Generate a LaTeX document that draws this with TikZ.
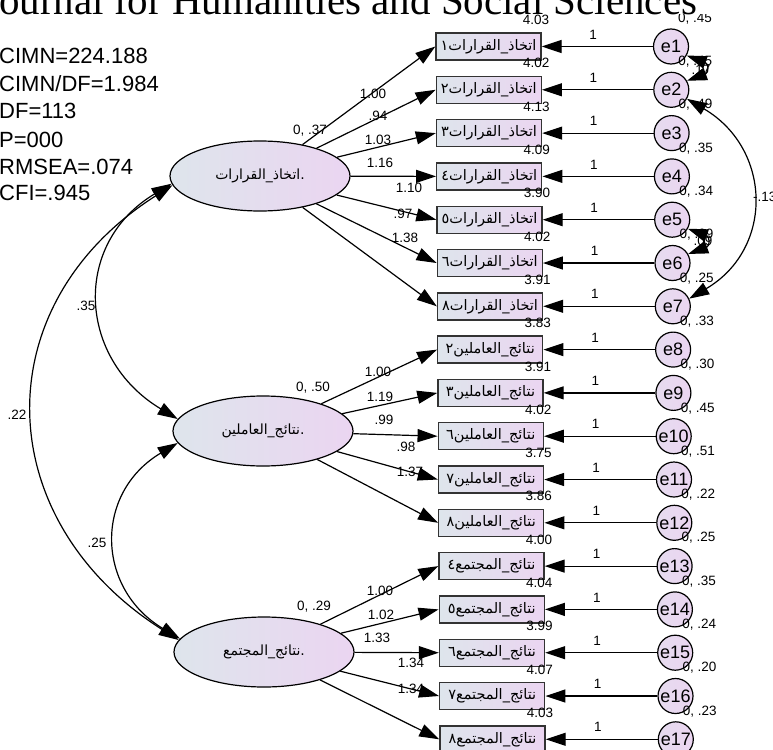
\documentclass[tikz,border=0pt]{standalone}
\usepackage{fontspec}
\setmainfont{Liberation Sans}
\newfontfamily\arabicfont[Script=Arabic]{DejaVu Sans}
\newfontfamily\titlefont{Liberation Serif}
\TeXXeTstate=1
\usetikzlibrary{arrows.meta,shapes.geometric}
\definecolor{gl}{RGB}{222,229,236}
\definecolor{gr}{RGB}{235,213,241}
\begin{document}
\begin{tikzpicture}[x=1pt,y=-1pt,
  lat/.style={ellipse, draw=black, line width=1.2pt, minimum width=180pt, minimum height=70pt, inner sep=0pt, left color=gl, right color=gr, font=\arabicfont\fontsize{14}{16}\selectfont},
  obs/.style={rectangle, draw=black!80, line width=1.4pt, minimum width=105pt, minimum height=27pt, inner sep=0pt, left color=gl, right color=gr, font=\arabicfont\fontsize{14.5}{16}\selectfont},
  err/.style={circle, draw=black, line width=1.2pt, minimum size=35pt, inner sep=0pt, left color=gl!40!gr, right color=gr, font=\fontsize{18}{20}\selectfont},
  lbl/.style={font=\fontsize{13.5}{15}\selectfont, inner sep=0pt},
  stat/.style={font=\fontsize{22}{24}\selectfont, inner sep=0pt, anchor=base west},
  arr/.style={line width=1.2pt, -{Triangle[length=20pt,width=13pt]}},
  dbl/.style={line width=1.2pt, {Triangle[length=20pt,width=13pt]}-{Triangle[length=20pt,width=13pt]}},
]
\useasboundingbox (0,0) rectangle (773,749);

% fit statistics
\node[stat] (s1) at (-1,64) {CIMN=224.188};
\node[stat] (s2) at (-1,92) {CIMN/DF=1.984};
\node[stat] (s3) at (-1,119) {DF=113};
\node[stat] (s4) at (-1,147) {P=000};
\node[stat] (s5) at (-1,174) {RMSEA=.074};
\node[stat] (s6) at (-1,200) {CFI=.945};

% latent variables
\node[lat] (L1) at (260,176) {{\beginR اتخاذ\_القرارات\endR}.};
\node[lat] (L2) at (263,431) {{\beginR نتائج\_العاملين\endR}.};
\node[lat] (L3) at (264,652) {{\beginR نتائج\_المجتمع\endR}.};
\node[lbl] (v1) at (310,131) {0, .37};
\node[lbl] (v2) at (313,388) {0, .50};
\node[lbl] (v3) at (314,607) {0, .29};

% observed variables and errors
\foreach \i/\txt/\icpt/\ev in {
 1/{اتخاذ\_القرارات١}/4.03/{0, .45},
 2/{اتخاذ\_القرارات٢}/4.02/{0, .45},
 3/{اتخاذ\_القرارات٣}/4.13/{0, .49},
 4/{اتخاذ\_القرارات٤}/4.09/{0, .35},
 5/{اتخاذ\_القرارات٥}/3.90/{0, .34},
 6/{اتخاذ\_القرارات٦}/4.02/{0, .09},
 7/{اتخاذ\_القرارات٨}/3.91/{0, .25},
 8/{نتائج\_العاملين٢}/3.83/{0, .33},
 9/{نتائج\_العاملين٣}/3.91/{0, .30},
 10/{نتائج\_العاملين٦}/4.02/{0, .45},
 11/{نتائج\_العاملين٧}/3.75/{0, .51},
 12/{نتائج\_العاملين٨}/3.86/{0, .22},
 13/{نتائج\_المجتمع٤}/4.00/{0, .25},
 14/{نتائج\_المجتمع٥}/4.04/{0, .35},
 15/{نتائج\_المجتمع٦}/3.99/{0, .24},
 16/{نتائج\_المجتمع٧}/4.07/{0, .20},
 17/{نتائج\_المجتمع٨}/4.03/{0, .23}}{
  \pgfmathsetmacro\yy{46.5+43.3*(\i-1)}
  \pgfmathsetmacro\bx{488.5+0.25*(\i-1)}
  \pgfmathsetmacro\cx{671+0.3*(\i-1)}
  \node[obs] (b\i) at (\bx,\yy) {\beginR \txt\endR};
  \node[err] (c\i) at (\cx,\yy) {e\i};
  \draw[arr] (c\i) -- (b\i.east);
  \node[lbl] (one\i) at (\cx-78,\yy-12) {1};
  \node[lbl] (ic\i) at (\bx+47.5,\yy-26.5) {\icpt};
  \node[lbl] (ev\i) at (\cx+24,\yy-28) {\ev};
}

% loadings
\foreach \i/\f/\lab/\lx/\ly in {
 1/L1/1.00/373/94, 2/L1/.94/378/116, 3/L1/1.03/378/140, 4/L1/1.16/380/163,
 5/L1/1.10/409/188, 6/L1/.97/403/214, 7/L1/1.38/405/238,
 8/L2/1.00/378/372, 9/L2/1.19/380/397, 10/L2/.99/384/420, 11/L2/.98/406/447, 12/L2/1.37/410/472,
 13/L3/1.00/380/591, 14/L3/1.02/381/615, 15/L3/1.33/377/638, 16/L3/1.34/411/663, 17/L3/1.34/411/689}{
  \draw[arr] (\f) -- (b\i.west);
  \node[lbl] (ld\i) at (\lx,\ly) {\lab};
}

% covariances between latent variables
\draw[dbl] (L1.185) .. controls +(-100,60) and +(-100,-60) .. (L2.172);
\node[lbl] (k1) at (86,306) {.35};
\draw[dbl] (L1.186) .. controls +(-189,120) and +(-189,-120) .. (L3.172);
\node[lbl] (k2) at (17,415) {.22};
\draw[dbl] (L2.188) .. controls +(-84,50) and +(-84,-50) .. (L3.171);
\node[lbl] (k3) at (97,543) {.25};

% covariances between errors
\draw[dbl] (c1.-30) .. controls +(22,8) and +(22,-8) .. (c2.30);
\node[lbl] (k4) at (701,70) {.17};
\draw[dbl] (c5.-30) .. controls +(22,8) and +(22,-8) .. (c6.30);
\node[lbl] (k5) at (703,241) {.09};
\draw[dbl] (c2.-30) .. controls +(85,50) and +(85,-50) .. (c7.25);
\node[lbl, anchor=west] (k6) at (753,197) {-.13};

% header of the page
\fill[white] (-5,-20) rectangle (778,14.5);
\node[anchor=base west, inner sep=0pt, font=\titlefont\fontsize{41}{44}\selectfont] (title) at (-1,15) {ournal for Humanities and Social Sciences};
\end{tikzpicture}
\end{document}
